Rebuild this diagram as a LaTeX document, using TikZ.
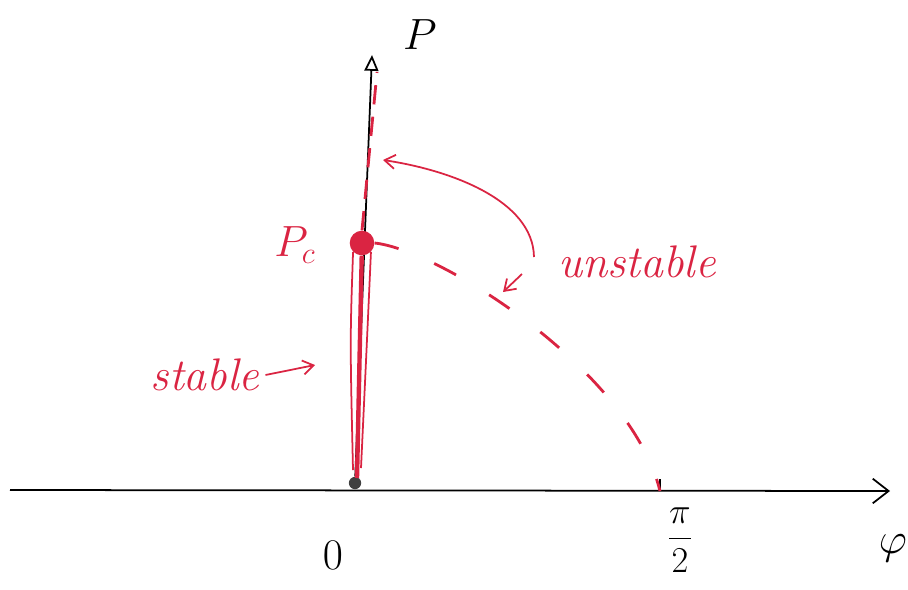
\documentclass[tikz,border=0pt]{standalone}
\usetikzlibrary{arrows.meta,calc}
\definecolor{inkred}{RGB}{218,36,66}
\tikzset{
  axis/.style={line width=1pt,black},
  unst/.style={inkred,line width=1.6pt,dash pattern=on 14pt off 22pt},
  redarrow/.style={inkred,line width=1pt,-{Straight Barb[length=6pt,width=8pt]}},
  redlabel/.style={inkred,font=\fontsize{26}{30}\selectfont\itshape},
  axlabel/.style={font=\fontsize{24}{28}\selectfont},
}
\begin{document}
\begin{tikzpicture}[x=0.02cm,y=-0.02cm]
	\useasboundingbox (0,0) rectangle (908,589);
	
	% osi
	\coordinate (phistart) at (10,490);
	\coordinate (phiend) at (890,491);
	\coordinate (ptop) at (372,55);
	\coordinate (halfpi) at (660,491);
	\node[circle,fill=black!75,inner sep=0pt,minimum size=7pt] (o) at (355,483) {};
	\draw[axis,-{Straight Barb[length=9pt,width=14pt]}] (phistart) -- (phiend);
	\draw[axis,-{Triangle[open,length=9pt,width=8pt]}] (o) -- (ptop);
	\draw[axis] (halfpi) -- ++(0,-12);
	
	% P_c
	\node[circle,fill=inkred,inner sep=0pt,minimum size=14pt] (pc) at (362,243) {};
	\coordinate (sbot) at (357,478);
	\coordinate (utop) at (377,72);
	
	% stabilna vetka
	\draw[inkred,line width=2.5pt] (pc) -- (sbot);
	\draw[inkred,line width=1pt] (pc.south west) .. controls (350,340) .. (353,470);
	\draw[inkred,line width=1pt] (pc.south east) .. controls (367,340) .. (361,468);
	
	% nestabilnye vetki
	\draw[unst,dash pattern=on 11pt off 7pt] (pc.north) -- (utop);
	\draw[unst] (pc.east) .. controls (440,250) and (630,370) .. (halfpi);
	
	% nadpisi
	\node[axlabel] (plab) at (420,35) {$P$};
	\node[redlabel] (pclab) at (295,245) {$P_c$};
	\node[axlabel] (zero) at (333,555) {$0$};
	\node[font=\fontsize{20}{24}\selectfont] (pihalf) at (680,540) {$\displaystyle\frac{\pi}{2}$};
	\node[axlabel] (phi) at (893,548) {$\varphi$};
	\node[redlabel] (unstab) at (637,262) {unstable};
	\node[redlabel] (stab) at (205,375) {stable};
	
	% strelki
	\coordinate (uarr1) at (383,160);
	\coordinate (uarr2) at (503,292);
	\coordinate (sarr) at (315,365);
	\draw[redarrow] ($(unstab.west)+(-18,-5)$) .. controls (533,200) and (450,170) .. (uarr1);
	\draw[redarrow] ($(unstab.west)+(-30,12)$) -- (uarr2);
	\draw[redarrow] (stab.east) -- (sarr);
\end{tikzpicture}
\end{document}
